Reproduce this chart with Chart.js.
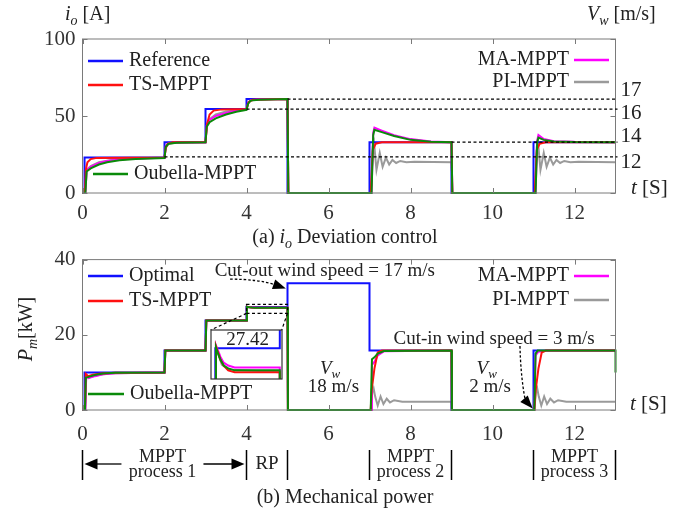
<!DOCTYPE html>
<html><head><meta charset="utf-8">
<script src="https://cdn.jsdelivr.net/npm/chart.js@4"></script>
<style>
html,body{margin:0;padding:0;background:#fff;}
#wrap{position:relative;width:692px;height:514px;overflow:hidden;background:#fff;}
canvas{position:absolute;left:0;}
</style></head><body>
<div id="wrap">
<canvas id="c1" width="692" height="250" style="top:0px"></canvas>
<canvas id="c2" width="692" height="274" style="top:240px"></canvas>
<canvas id="c3" width="73" height="51" style="left:210px;top:329px"></canvas>
</div>
<script>
// ---------- (a) i_o deviation control ----------
const xTickVals = [0,2,4,6,8,10,12];
const ioTickVals = [0,50,100];
const pmTickVals = [0,20,40];

const refT = [0,0.05,0.05,2,2,3,3,4,4,5,5,7,7,9,9,11,11,13];
const refI = [0,0,23,23,33,33,54.5,54.5,61,61,0,0,33,33,0,0,33,33];

const tsT = [0,0.06,0.08,0.12,0.2,0.35,2,2.03,2.08,2.2,3,3.04,3.1,3.2,3.4,4,4.05,4.15,5,5.02,7.03,7.08,7.15,7.3,9,9.02,11.03,11.08,11.15,11.3,13];
const tsI = [0,0,15,20,22,22.8,23,29,32,33,33,45,51,53.5,54.3,54.5,59,60.5,61,0,0,28,32,33,33,0,0,28,32,33,33];

const maT = [0,0.07,0.1,0.2,0.4,0.6,0.9,1.3,2,2.03,2.1,2.3,3,3.03,3.1,3.25,3.5,3.75,4,4.04,4.1,4.3,5,5.02,7.05,7.09,7.12,7.3,7.6,8.0,8.5,9,9.02,11.05,11.09,11.12,11.25,11.5,12,13];
const maI = [0,0,15,17,19.5,20.8,21.7,22.4,22.8,30.5,32.3,32.8,33,44,47.5,50,52,53.5,54.3,58.5,60.2,60.7,61,0,0,39,42.4,40.5,37.5,35,33.5,33,0,0,34,37.7,35,33.6,33.2,33];

const obT = [0,0.07,0.1,0.2,0.4,0.6,0.9,1.3,2,2.03,2.1,2.3,3,3.03,3.1,3.25,3.5,3.75,4,4.04,4.1,4.3,5,5.02,7.05,7.09,7.12,7.3,7.6,8.0,8.5,9,9.02,11.05,11.09,11.12,11.25,11.5,12,13];
const obI = [0,0,14,16,18.5,20,21.2,22.1,22.7,30,32,32.7,33,43,46,48.5,51,52.8,54,58,60,60.6,61,0,0,37.5,41,39.5,37,34.5,33.3,33,0,0,33,36,34.5,33.5,33.1,33];

const piT = [0,0.07,0.1,0.2,0.4,0.7,1.2,2,2.03,2.1,2.3,3,3.03,3.1,3.25,3.5,4,4.04,4.1,4.3,5,5.02,7.04,7.08,7.11,7.17,7.25,7.32,7.4,7.48,7.56,7.65,7.75,7.9,8.1,9,9.02,11.04,11.08,11.11,11.17,11.25,11.32,11.4,11.48,11.56,11.65,11.75,11.9,12.1,13];
const piI = [0,0,15,17.5,20,21.5,22.4,23,30,32,32.8,33,44,48,51,53,54.4,58.5,60.2,60.7,61,0,0,30,33,15,26,17,23,18.5,21.5,19.5,20.8,20,20.3,20,0,0,30,33,15,26,17,23,18.5,21.5,19.5,20.8,20,20.3,20];

// dashed reference current levels and the wind speeds they correspond to
const vwLevels = [61,54.5,33,23.5];
const vwStart = [5,4,9,2];
const vwLabels = ['17','16','14','12'];

// ---------- (b) mechanical power ----------
const optT = [0,0.05,0.05,2,2,3,3,4,4,5,5,7,7,9,9,11,11,13];
const optP = [0,0,10,10,15.8,15.8,23.8,23.8,27.42,27.42,33.7,33.7,15.8,15.8,0,0,15.8,15.8];

const tsPT = [0,0.06,0.08,0.14,0.25,0.45,0.8,2,2.02,3,3.02,4,4.01,4.04,4.08,4.13,4.2,4.3,5,5.01,7.03,7.05,7.12,7.2,7.3,9,9.01,11.02,11.05,11.12,11.2,11.3,13];
const tsPP = [0,0,9.6,9.0,9.4,9.7,9.9,10,15.8,15.8,23.8,23.8,27.44,27.38,27.3,27.24,27.19,27.17,27.17,0,0,5,11,15.3,15.8,15.8,0,0,5,11,15.3,15.8,15.8];

const maPT = [0,0.07,0.09,0.15,0.3,0.5,0.8,2,2.02,3,3.02,4,4.01,4.04,4.08,4.13,4.2,4.3,5,5.01,7.04,7.06,7.12,7.2,7.35,9,9.01,11.02,11.05,11.12,11.3,13];
const maPP = [0,0,9.3,8.5,9.0,9.5,9.8,10,15.8,15.8,23.8,23.8,27.45,27.4,27.33,27.27,27.24,27.22,27.22,0,0,12,12.8,14.5,15.6,15.8,0,0,14.5,15.5,15.8,15.8];

const obPT = [0,0.06,0.08,0.15,0.3,0.5,0.8,2,2.02,3,3.02,4,4.01,4.04,4.08,4.13,4.2,4.3,5,5.01,7.03,7.06,7.12,7.2,7.35,9,9.01,11.02,11.05,11.1,13,13];
const obPP = [0,0,8.6,8.8,9.3,9.7,9.9,10,15.8,15.8,23.8,23.8,27.43,27.37,27.3,27.24,27.21,27.19,27.19,0,0,13.5,14,15,15.7,15.8,0,0,15,15.8,15.8,10];

const piPT = [0,0.07,0.09,0.15,0.3,0.5,0.8,2,2.02,3,3.02,4,4.01,4.05,4.1,4.2,5,5.01,7.03,7.07,7.1,7.14,7.2,7.27,7.34,7.42,7.5,7.6,7.8,9,9.01,11.02,11.06,11.09,11.13,11.19,11.26,11.33,11.41,11.5,11.6,11.8,13];
const piPP = [0,0,9.2,8.6,9.1,9.5,9.8,10,15.8,15.8,23.8,23.8,27.44,27.35,27.25,27.2,27.17,0,0,5,5.8,3.5,1.2,3.6,1.6,3,2,2.6,2.2,2.2,0,0,5,5.8,3.5,1.2,3.6,1.6,3,2,2.6,2.2,2.2];

const insetValue = '27.42';

// ---------- styling ----------
const FONT = '"Liberation Serif","Times New Roman",serif';
const BLUE='#1010ff', RED='#ff1010', MAG='#ff00ff', GREEN='#0a8a0a', GRAY='#9a9a9a';
const TXT='#222';

function ds(label,color,T,V,order){
  return {label, data:T.map((t,i)=>({x:t,y:V[i]})), borderColor:color, backgroundColor:color,
    borderWidth:2, pointRadius:0, tension:0, fill:false, order, clip:false};
}
function rich(ctx, segs, x, y, size, align){
  const fontOf = st => (st!=='n'?'italic ':'') + (st==='s'? Math.round(size*0.68): size) + 'px ' + FONT;
  let w=0; segs.forEach(([t,st])=>{ctx.font=fontOf(st); w+=ctx.measureText(t).width;});
  let cx = align==='center'? x-w/2 : align==='right'? x-w : x;
  ctx.textAlign='left'; ctx.textBaseline='middle'; ctx.fillStyle=TXT;
  segs.forEach(([t,st])=>{ctx.font=fontOf(st); ctx.fillText(t, cx, y + (st==='s'? size*0.3:0)); cx+=ctx.measureText(t).width;});
}
function text(ctx,s,x,y,size,align){ rich(ctx,[[s,'n']],x,y,size,align||'center'); }
function line(ctx,x1,y1,x2,y2){ ctx.beginPath(); ctx.moveTo(x1,y1); ctx.lineTo(x2,y2); ctx.stroke(); }
function head(ctx,x,y,ang,len,wid){
  ctx.beginPath(); ctx.moveTo(x,y);
  ctx.lineTo(x-len*Math.cos(ang)+wid/2*Math.sin(ang), y-len*Math.sin(ang)-wid/2*Math.cos(ang));
  ctx.lineTo(x-len*Math.cos(ang)-wid/2*Math.sin(ang), y-len*Math.sin(ang)+wid/2*Math.cos(ang));
  ctx.closePath(); ctx.fill();
}
function frame(chart){
  const {ctx, chartArea:a, scales:{x,y}} = chart;
  ctx.save(); ctx.strokeStyle='#7a7a7a'; ctx.lineWidth=1;
  ctx.strokeRect(a.left,a.top,a.right-a.left,a.bottom-a.top);
  x.ticks.forEach(t=>{const p=Math.round(x.getPixelForValue(t.value))+0.5; line(ctx,p,a.bottom,p,a.bottom-5); line(ctx,p,a.top,p,a.top+5);});
  y.ticks.forEach(t=>{const p=Math.round(y.getPixelForValue(t.value))+0.5; line(ctx,a.left,p,a.left+5,p); line(ctx,a.right,p,a.right-5,p);});
  ctx.restore();
}
function legendItem(ctx, chart, label, x1, x2, y, tx, align){
  const d = chart.data.datasets.find(d=>d.label===label);
  ctx.save(); ctx.strokeStyle=d.borderColor; ctx.lineWidth=2.5; line(ctx,x1,y,x2,y); ctx.restore();
  text(ctx,label,tx,y,20,align);
}
function baseScales(ymax, yticks, xh, xpad){
  return {
    x:{type:'linear',min:0,max:13, afterFit:s=>{s.height=xh;}, afterBuildTicks:s=>{s.ticks=xTickVals.map(v=>({value:v}));},
       grid:{display:false,drawTicks:false}, border:{display:false},
       ticks:{padding:xpad,color:'#333',font:{family:FONT,size:21},maxRotation:0,autoSkip:false}},
    y:{min:0,max:ymax, afterFit:s=>{s.width=82.5;}, afterBuildTicks:s=>{s.ticks=yticks.map(v=>({value:v}));},
       grid:{display:false,drawTicks:false}, border:{display:false},
       ticks:{padding:7,color:'#333',font:{family:FONT,size:21}}}
  };
}

// ---------- chart (a) ----------
const annotA = {id:'annotA', afterDraw(chart){
  const {ctx, chartArea:a, scales:{x,y}} = chart;
  frame(chart);
  ctx.save();
  ctx.strokeStyle='#000'; ctx.lineWidth=1.3; ctx.setLineDash([3,2.5]);
  vwLevels.forEach((v,i)=>{const p=y.getPixelForValue(v); line(ctx,x.getPixelForValue(vwStart[i]),p,a.right+2,p);});
  ctx.setLineDash([]);
  const labY = [66.4,51.9,37.0,20.1];
  vwLabels.forEach((s,i)=>text(ctx,s,a.right+5,y.getPixelForValue(labY[i]),21,'left'));
  legendItem(ctx,chart,'Reference',88,123,61,129,'left');
  legendItem(ctx,chart,'TS-MPPT',88,123,85,129,'left');
  legendItem(ctx,chart,'Oubella-MPPT',93,128,174,134,'left');
  legendItem(ctx,chart,'MA-MPPT',574,609,60,569,'right');
  legendItem(ctx,chart,'PI-MPPT',574,609,82,569,'right');
  rich(ctx,[['t','i'],[' [S]','n']],631,188,21,'left');
  rich(ctx,[['i','i'],['o','s'],[' [A]','n']],65,15,20,'left');
  rich(ctx,[['V','i'],['w','s'],[' [m/s]','n']],587,15,20,'left');
  rich(ctx,[['(a) ','n'],['i','i'],['o','s'],[' Deviation control','n']],345,238,20,'center');
  ctx.restore();
}};
new Chart(document.getElementById('c1'),{type:'line',
  data:{datasets:[
    ds('Oubella-MPPT',GREEN,obT,obI,0),
    ds('TS-MPPT',RED,tsT,tsI,1),
    ds('MA-MPPT',MAG,maT,maI,2),
    ds('Reference',BLUE,refT,refI,3),
    ds('PI-MPPT',GRAY,piT,piI,4)]},
  options:{responsive:false,animation:false,events:[],
    layout:{padding:{left:0,right:76.5,top:39,bottom:0}},
    plugins:{legend:{display:false},tooltip:{enabled:false}},
    scales:baseScales(100,ioTickVals,57,8)},
  plugins:[annotA]});

// ---------- chart (b) ----------
const insetBox = {l:210.7, r:281.7, t:90}; // canvas-2 pixel position of the inset frame top
const annotB = {id:'annotB', afterDraw(chart){
  const {ctx, chartArea:a, scales:{x,y}} = chart;
  frame(chart);
  ctx.save();
  const X=v=>x.getPixelForValue(v), Y=v=>y.getPixelForValue(v);
  legendItem(ctx,chart,'Optimal',88,123,36,129,'left');
  legendItem(ctx,chart,'TS-MPPT',88,123,61,129,'left');
  legendItem(ctx,chart,'Oubella-MPPT',88,124,154,130,'left');
  legendItem(ctx,chart,'MA-MPPT',574,609,36,569,'right');
  legendItem(ctx,chart,'PI-MPPT',574,609,60,569,'right');
  // zoom rectangle + connectors
  ctx.strokeStyle='#000'; ctx.lineWidth=1.2; ctx.setLineDash([3,2.5]);
  ctx.strokeRect(X(4),Y(28.1),X(5)-X(4),Y(25.7)-Y(28.1));
  line(ctx,X(4),Y(25.7),insetBox.l,insetBox.t);
  line(ctx,X(5),Y(25.7),insetBox.r,insetBox.t);
  // cut-out arrow
  ctx.setLineDash([2.5,2]); ctx.lineWidth=1.3;
  let sx=X(3.6),sy=Y(34.8),cx=X(4.3),cy=Y(34.8),tx=X(4.96),ty=Y(32.3);
  let ang=Math.atan2(ty-cy,tx-cx);
  ctx.beginPath(); ctx.moveTo(sx,sy); ctx.quadraticCurveTo(cx,cy,tx-11*Math.cos(ang),ty-11*Math.sin(ang)); ctx.stroke();
  ctx.setLineDash([]); ctx.fillStyle='#000'; head(ctx,tx,ty,ang,13,10);
  // cut-in arrow
  ctx.setLineDash([2.5,2]);
  sx=X(10.67);sy=Y(17.0);
  const c1x=X(10.69),c1y=Y(7.8),c2x=X(10.8),c2y=Y(2.6); tx=X(10.98);ty=Y(0.4);
  ang=Math.atan2(ty-c2y,tx-c2x);
  ctx.beginPath(); ctx.moveTo(sx,sy); ctx.bezierCurveTo(c1x,c1y,c2x,c2y,tx-11*Math.cos(ang),ty-11*Math.sin(ang)); ctx.stroke();
  ctx.setLineDash([]); head(ctx,tx,ty,ang,13,10);
  text(ctx,'Cut-out wind speed = 17 m/s',X(5.91),Y(37.0),19,'center');
  text(ctx,'Cut-in wind speed = 3 m/s',X(10.04),Y(19.0),19,'center');
  rich(ctx,[['V','i'],['w','s']],X(6.04),Y(11.0),19,'center');
  text(ctx,'18 m/s',X(6.12),Y(6.1),19,'center');
  rich(ctx,[['V','i'],['w','s']],X(9.86),Y(11.0),19,'center');
  text(ctx,'2 m/s',X(9.94),Y(6.1),19,'center');
  rich(ctx,[['t','i'],[' [S]','n']],630,164,21,'left');
  // y title rotated
  ctx.save(); ctx.translate(27,89); ctx.rotate(-Math.PI/2);
  rich(ctx,[['P','i'],['m','s'],['[kW]','n']],0,0,20,'center'); ctx.restore();
  // process annotations
  ctx.strokeStyle='#000'; ctx.fillStyle='#000'; ctx.lineWidth=1.5;
  [0,4,5,7,9,11,13].forEach(t=>{const p=X(t); line(ctx,p,210,p,240);});
  ctx.lineWidth=1.3;
  line(ctx,X(0)+10,224,X(0.95),224); head(ctx,X(0)+2,224,Math.PI,13,11);
  line(ctx,X(2.95),224,X(4)-10,224); head(ctx,X(4)-2,224,0,13,11);
  text(ctx,'MPPT',X(1.95),217,18,'center'); text(ctx,'process 1',X(1.95),232,18,'center');
  text(ctx,'RP',X(4.5),224,19,'center');
  text(ctx,'MPPT',X(8),217,18,'center'); text(ctx,'process 2',X(8),232,18,'center');
  text(ctx,'MPPT',X(12),217,18,'center'); text(ctx,'process 3',X(12),232,18,'center');
  text(ctx,'(b) Mechanical power',345,258,20,'center');
  ctx.restore();
}};
new Chart(document.getElementById('c2'),{type:'line',
  data:{datasets:[
    ds('Oubella-MPPT',GREEN,obPT,obPP,0),
    ds('TS-MPPT',RED,tsPT,tsPP,1),
    ds('MA-MPPT',MAG,maPT,maPP,2),
    ds('Optimal',BLUE,optT,optP,3),
    ds('PI-MPPT',GRAY,piPT,piPP,4)]},
  options:{responsive:false,animation:false,events:[],
    layout:{padding:{left:0,right:76.5,top:17,bottom:0}},
    plugins:{legend:{display:false},tooltip:{enabled:false}},
    scales:baseScales(40,pmTickVals,104,12)},
  plugins:[annotB]});

// ---------- inset (zoom of 4-5 s) ----------
const insetPlug = {id:'inset',
  beforeDraw(chart){const {ctx,chartArea:a}=chart; ctx.save(); ctx.fillStyle='#fff'; ctx.fillRect(a.left,a.top,a.right-a.left,a.bottom-a.top); ctx.restore();},
  afterDraw(chart){const {ctx,chartArea:a,scales:{x,y}}=chart; ctx.save(); ctx.strokeStyle='#333'; ctx.lineWidth=1.2;
    ctx.strokeRect(a.left,a.top,a.right-a.left,a.bottom-a.top);
    text(ctx,insetValue,x.getPixelForValue(4.5),y.getPixelForValue(27.505),19,'center'); ctx.restore();}};
const dsi=(l,c,T,V,o)=>Object.assign(ds(l,c,T,V,o),{clip:0});
new Chart(document.getElementById('c3'),{type:'line',
  data:{datasets:[
    dsi('Oubella-MPPT',GREEN,obPT,obPP,0),
    dsi('TS-MPPT',RED,tsPT,tsPP,1),
    dsi('MA-MPPT',MAG,maPT,maPP,2),
    dsi('Optimal',BLUE,optT,optP,3),
    dsi('PI-MPPT',GRAY,piPT,piPP,4)]},
  options:{responsive:false,animation:false,events:[],
    layout:{padding:1},
    plugins:{legend:{display:false},tooltip:{enabled:false}},
    scales:{x:{type:'linear',display:false,min:3.933,max:5.034},y:{display:false,min:27.10,max:27.61}}},
  plugins:[insetPlug]});
</script>
</body></html>
